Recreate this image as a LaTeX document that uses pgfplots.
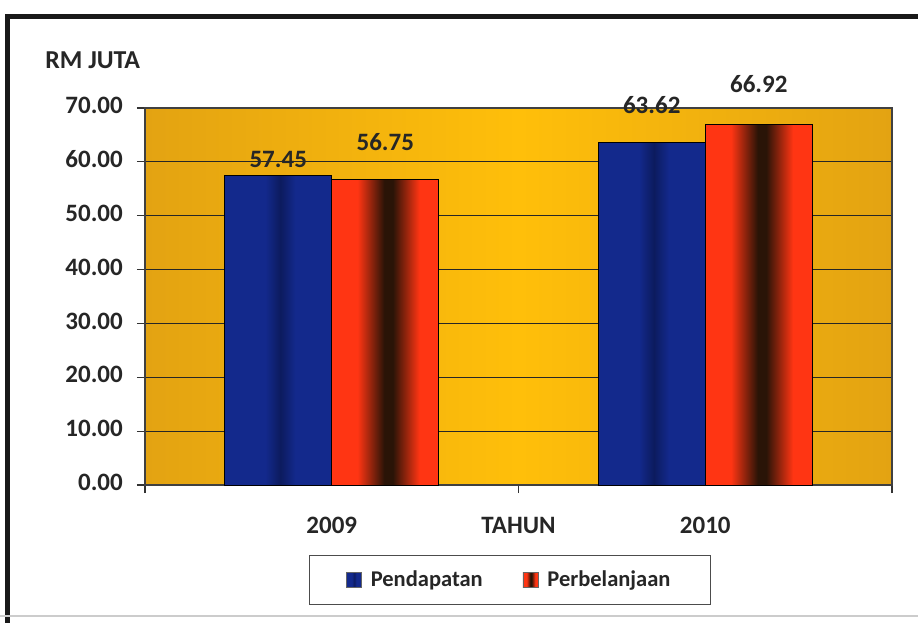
\documentclass[border=0pt]{standalone}
\usepackage{pgfplots}
\usepackage{pgfplotstable}
\pgfplotsset{compat=1.18}
\usepackage{fontspec}
\setmainfont{Carlito}
\definecolor{txt}{HTML}{262626}
\definecolor{goldedge}{HTML}{E3A312}
\definecolor{goldmid}{HTML}{FFBF0A}
\definecolor{blueA}{HTML}{13298C}
\definecolor{blueD}{HTML}{0C1B5E}
\definecolor{redA}{HTML}{FF3513}
\definecolor{redD}{HTML}{2A1407}
\pgfdeclarehorizontalshading{bggold}{100bp}{color(0bp)=(goldedge); color(25bp)=(goldedge); color(50bp)=(goldmid); color(75bp)=(goldedge); color(100bp)=(goldedge)}
\pgfdeclarehorizontalshading{bluebar}{100bp}{color(0bp)=(blueA); color(25bp)=(blueA); color(44bp)=(blueA); color(51bp)=(blueD); color(58bp)=(blueA); color(75bp)=(blueA); color(100bp)=(blueA)}
\pgfdeclarehorizontalshading{redbar}{100bp}{color(0bp)=(redA); color(25bp)=(redA); color(37bp)=(redA); color(49.5bp)=(redD); color(53.5bp)=(redD); color(66bp)=(redA); color(75bp)=(redA); color(100bp)=(redA)}

\pgfplotstableread{
x y off
0 57.45 1.2
1 63.62 13.8
}\pend
\pgfplotstableread{
x y off
0 56.75 13.8
1 66.92 15.6
}\perb

\newcommand{\lblfont}{\fontsize{15}{17}\selectfont\bfseries}
\begin{document}
\begin{tikzpicture}[font=\lblfont]
\useasboundingbox (0,0) rectangle (550.8pt,-373.8pt);
\draw[line width=3pt, black!90] (4.2pt,-380pt) -- (4.2pt,-10.2pt) -- (560pt,-10.2pt);
\draw[gray!40, line width=1pt] (0pt,-369.6pt) -- (550.8pt,-369.6pt);
\node[anchor=west, text=txt, inner sep=0pt, font=\fontsize{15.5}{17}\selectfont\bfseries] at (27pt,-36pt) {RM JUTA};
\begin{axis}[
  at={(87pt,-291pt)}, anchor=south west,
  scale only axis, width=448.2pt, height=226.2pt,
  xmin=-0.5, xmax=1.5, ymin=0, ymax=70,
  ytick={0,10,...,70},
  yticklabels={0.00,10.00,20.00,30.00,40.00,50.00,60.00,70.00},
  tick label style={font=\lblfont, text=txt},
  typeset ticklabels with strut,
  yticklabel style={xshift=-5pt},
  xtick={-0.5,0.5,1.5}, xticklabels={,TAHUN,},
  extra x ticks={0,1}, extra x tick labels={2009,2010},
  extra x tick style={tick style={draw=none}, grid=none},
  xticklabel style={yshift=-9pt},
  tick align=outside, major tick length=4.8pt,
  tick pos=left,
  tick style={black!80, line width=0.7pt},
  ymajorgrids, grid style={black!85, line width=0.7pt},
  axis line style={black!75, line width=0.7pt},
  axis background/.style={shading=bggold},
  clip=false,
  ybar=0pt, bar width=0.2865,
  nodes near coords, point meta=explicit,
  nodes near coords style={font=\lblfont, text=txt, /pgf/number format/fixed, /pgf/number format/fixed zerofill, /pgf/number format/precision=2, /pgf/number format/assume math mode=true, yshift=\off pt},
  visualization depends on={\thisrow{off}\as\off},
  legend columns=2,
  legend style={at={(rel axis cs:0.4886,-0.252)}, anchor=center, draw=black!70, line width=0.6pt, inner xsep=22pt, inner ysep=7pt, font=\fontsize{13.5}{16}\selectfont\bfseries, text=txt,
    /tikz/every odd column/.append style={column sep=3.5pt},
    /tikz/every even column/.append style={column sep=22pt}},
]
\addplot[ybar, bar shift=-0.1433, draw=black, line width=0.6pt, shading=bluebar, restrict x to domain=-0.1:0.1,
  legend image code/.code={\draw[draw=black!60, line width=0.3pt, shading=bluebar] (0pt,-4.5pt) rectangle (9pt,4.5pt);}]
  table[x=x, y=y, meta=y] {\pend};
\addplot[ybar, bar shift=0.1433, draw=black, line width=0.6pt, shading=redbar, restrict x to domain=-0.1:0.1,
  legend image code/.code={\draw[draw=black!60, line width=0.3pt, shading=redbar] (0pt,-4.5pt) rectangle (9pt,4.5pt);}]
  table[x=x, y=y, meta=y] {\perb};
\addplot[ybar, bar shift=-0.1433, draw=black, line width=0.6pt, shading=bluebar, restrict x to domain=0.9:1.1, forget plot]
  table[x=x, y=y, meta=y] {\pend};
\addplot[ybar, bar shift=0.1433, draw=black, line width=0.6pt, shading=redbar, restrict x to domain=0.9:1.1, forget plot]
  table[x=x, y=y, meta=y] {\perb};
\legend{Pendapatan, Perbelanjaan}
\end{axis}
\end{tikzpicture}
\end{document}
